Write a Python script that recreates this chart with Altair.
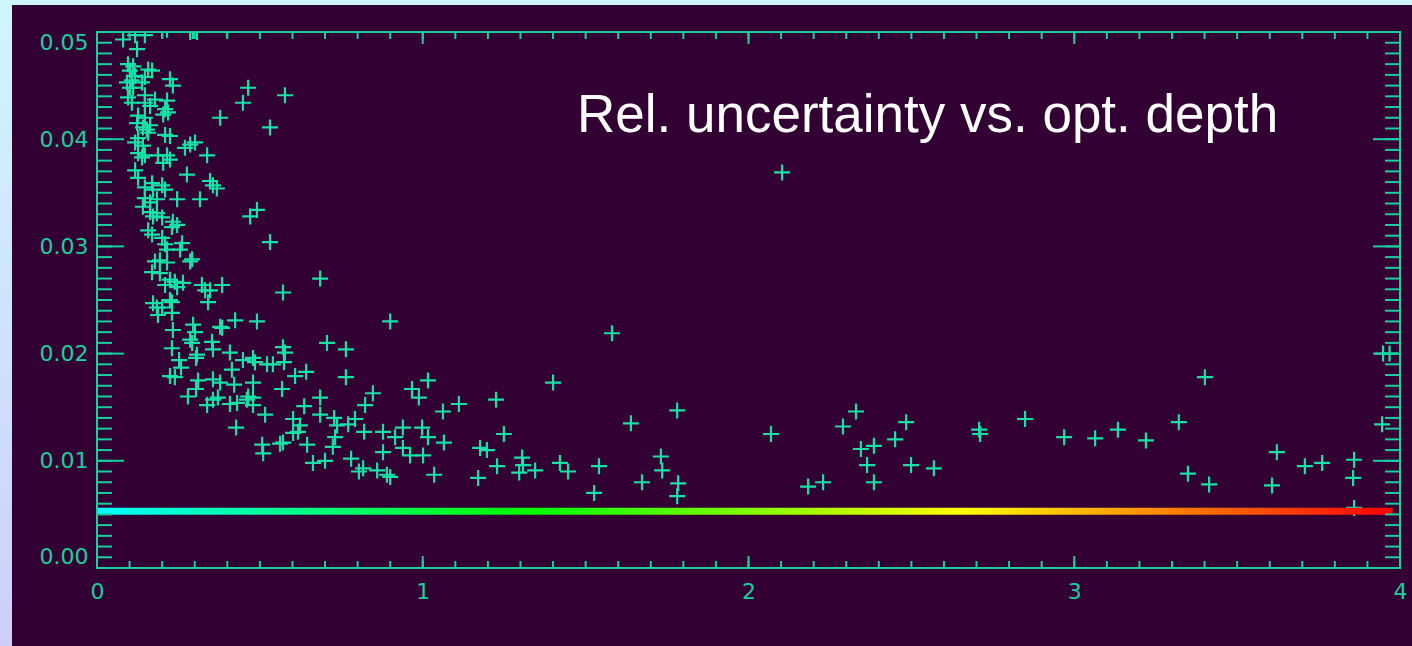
import altair as alt
import pandas as pd

# (optical depth, relative uncertainty) for each measurement
samples = [
    (0.080, 0.0493), (0.117, 0.0497), (0.147, 0.0497), (0.200, 0.0502), (0.215, 0.0502),
    (0.286, 0.0500), (0.295, 0.0501), (0.307, 0.0500), (0.399, 0.0502), (0.123, 0.0484),
    (0.095, 0.0470), (0.111, 0.0468), (0.101, 0.0464), (0.157, 0.0465), (0.169, 0.0464),
    (0.147, 0.0458), (0.117, 0.0459), (0.107, 0.0455), (0.092, 0.0453), (0.101, 0.0448),
    (0.111, 0.0448), (0.224, 0.0456), (0.233, 0.0450), (0.138, 0.0453), (0.095, 0.0439),
    (0.107, 0.0434), (0.147, 0.0441), (0.178, 0.0437), (0.147, 0.0434), (0.163, 0.0431),
    (0.215, 0.0436), (0.209, 0.0428), (0.218, 0.0425), (0.203, 0.0423), (0.378, 0.0420),
    (0.126, 0.0422), (0.147, 0.0420), (0.123, 0.0415), (0.141, 0.0411), (0.153, 0.0409),
    (0.157, 0.0406), (0.163, 0.0413), (0.209, 0.0404), (0.224, 0.0403), (0.126, 0.0401),
    (0.117, 0.0397), (0.141, 0.0394), (0.286, 0.0395), (0.301, 0.0397), (0.270, 0.0392),
    (0.126, 0.0387), (0.147, 0.0385), (0.138, 0.0383), (0.187, 0.0385), (0.215, 0.0385),
    (0.224, 0.0381), (0.203, 0.0378), (0.338, 0.0385), (0.117, 0.0371), (0.126, 0.0364),
    (0.276, 0.0367), (0.347, 0.0361), (0.356, 0.0357), (0.169, 0.0359), (0.200, 0.0357),
    (0.464, 0.0448), (0.577, 0.0441), (0.448, 0.0434), (0.531, 0.0411),
    (0.368, 0.0354), (0.316, 0.0344), (0.491, 0.0334), (0.470, 0.0328), (0.531, 0.0304),
    (0.685, 0.0270), (0.571, 0.0257),
    (0.147, 0.0355), (0.172, 0.0353), (0.209, 0.0353), (0.147, 0.0345), (0.163, 0.0341),
    (0.141, 0.0337), (0.184, 0.0344), (0.246, 0.0344), (0.163, 0.0332), (0.172, 0.0328),
    (0.184, 0.0331), (0.200, 0.0327), (0.233, 0.0323), (0.246, 0.0320), (0.230, 0.0318),
    (0.157, 0.0315), (0.169, 0.0311), (0.200, 0.0308), (0.209, 0.0302), (0.215, 0.0297),
    (0.261, 0.0303), (0.255, 0.0297), (0.178, 0.0286), (0.193, 0.0287), (0.215, 0.0285),
    (0.169, 0.0276), (0.193, 0.0275), (0.286, 0.0286), (0.292, 0.0288), (0.224, 0.0269),
    (0.239, 0.0267), (0.246, 0.0262), (0.264, 0.0266), (0.209, 0.0264), (0.322, 0.0264),
    (0.332, 0.0259), (0.347, 0.0259), (0.384, 0.0264), (0.341, 0.0248), (0.172, 0.0247),
    (0.184, 0.0243), (0.200, 0.0243), (0.230, 0.0248), (0.230, 0.0238), (0.233, 0.0222),
    (0.295, 0.0227), (0.301, 0.0220), (0.378, 0.0225), (0.424, 0.0231), (0.491, 0.0230),
    (0.286, 0.0213), (0.353, 0.0211),
    (0.224, 0.0250), (0.187, 0.0236), (0.384, 0.0224), (0.230, 0.0205), (0.292, 0.0210),
    (0.356, 0.0204), (0.307, 0.0199), (0.304, 0.0196), (0.252, 0.0194), (0.408, 0.0201),
    (0.448, 0.0194), (0.479, 0.0196), (0.485, 0.0192), (0.571, 0.0206), (0.577, 0.0201),
    (0.574, 0.0192), (0.706, 0.0210), (0.764, 0.0204), (0.522, 0.0190), (0.540, 0.0190),
    (0.414, 0.0185), (0.258, 0.0187), (0.224, 0.0179), (0.239, 0.0178), (0.310, 0.0175),
    (0.356, 0.0176), (0.378, 0.0173), (0.421, 0.0171), (0.479, 0.0173), (0.608, 0.0179),
    (0.642, 0.0183), (0.764, 0.0178), (0.568, 0.0167), (0.279, 0.0160), (0.304, 0.0167),
    (0.356, 0.0157), (0.371, 0.0159), (0.338, 0.0152), (0.408, 0.0153), (0.430, 0.0154),
    (0.460, 0.0157), (0.479, 0.0159), (0.464, 0.0160), (0.479, 0.0152), (0.516, 0.0143),
    (0.427, 0.0131), (0.636, 0.0151), (0.685, 0.0159), (0.847, 0.0163), (0.823, 0.0152),
    (0.685, 0.0143), (0.728, 0.0140), (0.737, 0.0133), (0.771, 0.0134), (0.792, 0.0139),
    (0.820, 0.0127), (0.602, 0.0139), (0.623, 0.0133), (0.602, 0.0126), (0.617, 0.0127),
    (0.571, 0.0117), (0.645, 0.0115), (0.724, 0.0113), (0.731, 0.0122), (0.507, 0.0115),
    (0.510, 0.0107), (0.562, 0.0116), (0.663, 0.0098), (0.700, 0.0100), (0.780, 0.0102),
    (0.804, 0.0090), (0.817, 0.0093), (0.860, 0.0091), (0.878, 0.0127), (0.878, 0.0108),
    (0.890, 0.0087),
    (0.900, 0.0230), (1.581, 0.0219), (1.016, 0.0175), (0.967, 0.0167), (0.988, 0.0159),
    (1.111, 0.0153), (1.062, 0.0146), (1.225, 0.0157), (1.400, 0.0173), (1.781, 0.0147),
    (1.639, 0.0135), (1.249, 0.0125), (0.939, 0.0131), (0.915, 0.0122), (0.998, 0.0131),
    (1.016, 0.0122), (1.065, 0.0117), (0.939, 0.0112), (0.961, 0.0105), (1.001, 0.0105),
    (1.176, 0.0112), (1.197, 0.0110), (1.305, 0.0103), (1.308, 0.0096), (1.228, 0.0095),
    (1.296, 0.0089), (1.345, 0.0091), (1.421, 0.0098), (1.446, 0.0090), (1.541, 0.0095),
    (0.900, 0.0085), (1.035, 0.0087), (1.170, 0.0084), (1.731, 0.0104), (1.735, 0.0091),
    (1.673, 0.0080), (1.784, 0.0079), (1.781, 0.0067), (1.526, 0.0070), (2.069, 0.0125),
    (2.330, 0.0146), (2.290, 0.0132), (2.484, 0.0136), (2.450, 0.0120), (2.345, 0.0111),
    (2.385, 0.0114), (2.364, 0.0096), (2.385, 0.0080), (2.499, 0.0096), (2.569, 0.0093),
    (2.183, 0.0076), (2.229, 0.0080), (2.708, 0.0129), (2.711, 0.0125), (2.849, 0.0139),
    (2.969, 0.0122), (3.064, 0.0121), (3.134, 0.0129), (3.220, 0.0119), (3.321, 0.0136),
    (3.401, 0.0178), (3.349, 0.0088), (3.414, 0.0078), (3.622, 0.0108), (3.607, 0.0077),
    (3.708, 0.0095), (3.761, 0.0098), (3.859, 0.0101), (3.856, 0.0084), (3.859, 0.0056),
    (3.945, 0.0134), (3.948, 0.0200), (3.968, 0.0200), (2.103, 0.0369),
]

# axis tick positions
x_major = [0, 1, 2, 3, 4]
y_major = [0.00, 0.01, 0.02, 0.03, 0.04, 0.05]
x_minor = [round(i * 0.1, 1) for i in range(41)]
y_minor = [round(i * 0.001, 3) for i in range(51)]

# reference level, drawn as a hue-ramped band
ref_band = {"x0": 0.0, "x1": 3.977, "y0": 0.00497, "y1": 0.00562}

TITLE = "Rel. uncertainty vs. opt. depth"

W, H = 1303, 536
PAD = {"left": 97, "top": 32, "right": 12, "bottom": 78}
PANEL = "#330033"
AXIS = "#1acf9e"
POINT = "#18e0a6"
LABEL_FONT = "DejaVu Sans"

df = pd.DataFrame(samples, columns=["depth", "unc"])
one = pd.DataFrame({"k": [0]})

xs = alt.Scale(domain=[0, 4], nice=False, zero=False)
ys = alt.Scale(domain=[0, 0.05], nice=False, zero=False)

# light frame strips around the dark page (top edge and left edge)
top_strip = alt.Chart(one).mark_rect(fill="#cdf5fd", clip=False).encode(
    x=alt.value(-97), x2=alt.value(W + 12), y=alt.value(-32), y2=alt.value(-27)
)
left_strip = alt.Chart(one).mark_rect(
    clip=False,
    fill=alt.LinearGradient(
        gradient="linear",
        stops=[alt.GradientStop(color="#cff6fd", offset=0),
               alt.GradientStop(color="#cdcffa", offset=1)],
        x1=0, x2=0, y1=0, y2=1,
    ),
).encode(x=alt.value(-97), x2=alt.value(-85), y=alt.value(-32), y2=alt.value(H + 78))

cross = "M-1,0L1,0M0,-1L0,1"
points = alt.Chart(df).mark_point(
    shape=cross, filled=False, size=256, strokeWidth=2.2, stroke=POINT, opacity=1, clip=True
).encode(
    x=alt.X("depth:Q", scale=xs, title=None,
            axis=alt.Axis(values=x_major, format="d", labelFlush=False, labelPadding=13)),
    y=alt.Y("unc:Q", scale=ys, title=None,
            axis=alt.Axis(values=y_major, format=".2f", labelFlush=True, labelPadding=9)),
)

band = alt.Chart(pd.DataFrame([ref_band])).mark_rect(
    fill=alt.LinearGradient(
        gradient="linear",
        stops=[alt.GradientStop(color="#00ffff", offset=0),
               alt.GradientStop(color="#00ff00", offset=1 / 3),
               alt.GradientStop(color="#ffff00", offset=2 / 3),
               alt.GradientStop(color="#ff0000", offset=1)],
        x1=0, x2=1, y1=0, y2=0,
    )
).encode(
    x=alt.X("x0:Q", scale=xs, title=None), x2="x1:Q",
    y=alt.Y("y0:Q", scale=ys, title=None), y2="y1:Q",
)


def yticks(vals, x0, x1):
    return alt.Chart(pd.DataFrame({"v": vals})).mark_rule(color=AXIS, strokeWidth=2).encode(
        y=alt.Y("v:Q", scale=ys, title=None), x=alt.value(x0), x2=alt.value(x1)
    )


def xticks(vals, y0, y1):
    return alt.Chart(pd.DataFrame({"v": vals})).mark_rule(color=AXIS, strokeWidth=2).encode(
        x=alt.X("v:Q", scale=xs, title=None), y=alt.value(y0), y2=alt.value(y1)
    )


ticks = [
    yticks(y_minor, 0, 15), yticks(y_major, 0, 27),
    yticks(y_minor, W - 15, W), yticks(y_major, W - 27, W),
    xticks(x_minor, H - 7, H), xticks(x_major, H - 12, H),
    xticks(x_minor, 0, 7), xticks(x_major, 0, 12),
]

frame = alt.Chart(one).mark_rect(fillOpacity=0, stroke=AXIS, strokeWidth=2).encode(
    x=alt.value(0), x2=alt.value(W), y=alt.value(0), y2=alt.value(H)
)

title = alt.Chart(one).mark_text(
    text=TITLE, font="Liberation Sans", fontSize=53, color="#ffffff",
    align="left", baseline="alphabetic"
).encode(x=alt.value(480), y=alt.value(100))

chart = alt.layer(top_strip, left_strip, points, band, *ticks, frame, title).properties(
    width=W, height=H, padding=PAD,
    autosize=alt.AutoSizeParams(type="none"),
    background=PANEL,
).configure_view(
    stroke="transparent"
).configure_axis(
    ticks=False, domain=False, grid=False,
    labelFont=LABEL_FONT, labelFontSize=22, labelColor=AXIS,
)

chart.save("out.html", embed_options={"renderer": "svg", "actions": False})
